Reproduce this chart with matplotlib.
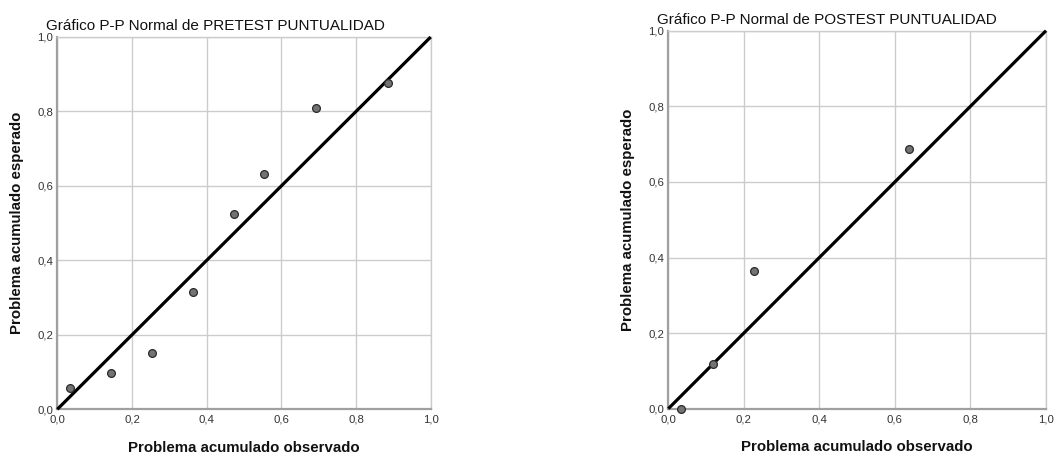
import matplotlib
matplotlib.use("Agg")
import matplotlib.pyplot as plt
from matplotlib.ticker import FixedLocator

plt.rcParams['font.family'] = ['Liberation Sans', 'DejaVu Sans']

# Data
pre_observed = [0.033, 0.144, 0.253, 0.363, 0.472, 0.554, 0.692, 0.885]
pre_expected = [0.058, 0.097, 0.152, 0.315, 0.525, 0.631, 0.810, 0.876]
post_observed = [0.034, 0.118, 0.227, 0.638]
post_expected = [0.000, 0.118, 0.364, 0.687]

ticks = [0.0, 0.2, 0.4, 0.6, 0.8, 1.0]
tick_labels = ["0,0", "0,2", "0,4", "0,6", "0,8", "1,0"]
ref_line = [0.0, 1.0]

titles = ["Gráfico P-P Normal de PRETEST PUNTUALIDAD",
          "Gráfico P-P Normal de POSTEST PUNTUALIDAD"]
xlabel = "Problema acumulado observado"
ylabel = "Problema acumulado esperado"

W, H = 1056, 457
fig = plt.figure(figsize=(W / 100, H / 100), dpi=100)

def px_axes(x0, y0, x1, y1):
    return fig.add_axes([x0 / W, 1 - y1 / H, (x1 - x0) / W, (y1 - y0) / H])

axes_specs = [
    dict(box=(57.3, 37.0, 430.7, 409.3), title_xy=(46, 30.5), ylab_x=17, xlab_y=448,
         obs=pre_observed, exp=pre_expected, title=titles[0]),
    dict(box=(668.3, 30.7, 1046.0, 408.7), title_xy=(657, 24), ylab_x=628, xlab_y=447,
         obs=post_observed, exp=post_expected, title=titles[1]),
]

for spec in axes_specs:
    x0, y0, x1, y1 = spec['box']
    ax = px_axes(x0, y0, x1, y1)
    ax.set_xlim(0, 1)
    ax.set_ylim(0, 1)
    ax.xaxis.set_major_locator(FixedLocator(ticks))
    ax.yaxis.set_major_locator(FixedLocator(ticks))
    ax.set_xticklabels(tick_labels)
    ax.set_yticklabels(tick_labels)
    ax.tick_params(length=0, labelsize=8.2, colors='#333333')
    ax.tick_params(axis='x', pad=4)
    ax.tick_params(axis='y', pad=3)
    ax.grid(True, color='#cccccc', linewidth=1.0, zorder=0)
    for s in ['top', 'right']:
        ax.spines[s].set_color('#cccccc')
        ax.spines[s].set_linewidth(1.0)
    for s in ['left', 'bottom']:
        ax.spines[s].set_color('#a0a0a0')
        ax.spines[s].set_linewidth(1.6)
    ax.plot(ref_line, ref_line, color='black', linewidth=2.3, zorder=3,
            solid_capstyle='butt', clip_on=False)
    ax.plot(spec['obs'], spec['exp'], linestyle='none', marker='o', markersize=5.6,
            markerfacecolor='#737373', markeredgecolor='#2a2a2a', markeredgewidth=0.9,
            zorder=4, clip_on=False)
    tx, ty = spec['title_xy']
    fig.text(tx / W, 1 - ty / H, spec['title'], ha='left', va='baseline',
             fontsize=11.0, color='#111111', fontweight='medium')
    fig.text(spec['ylab_x'] / W, 1 - ((y0 + y1) / 2) / H, ylabel, rotation=90,
             ha='center', va='center', fontsize=10.8, fontweight='bold', color='#111111')
    fig.text(((x0 + x1) / 2) / W, 1 - spec['xlab_y'] / H, xlabel, ha='center',
             va='center', fontsize=10.8, fontweight='bold', color='#111111')

fig.savefig("out.png", dpi=100)
